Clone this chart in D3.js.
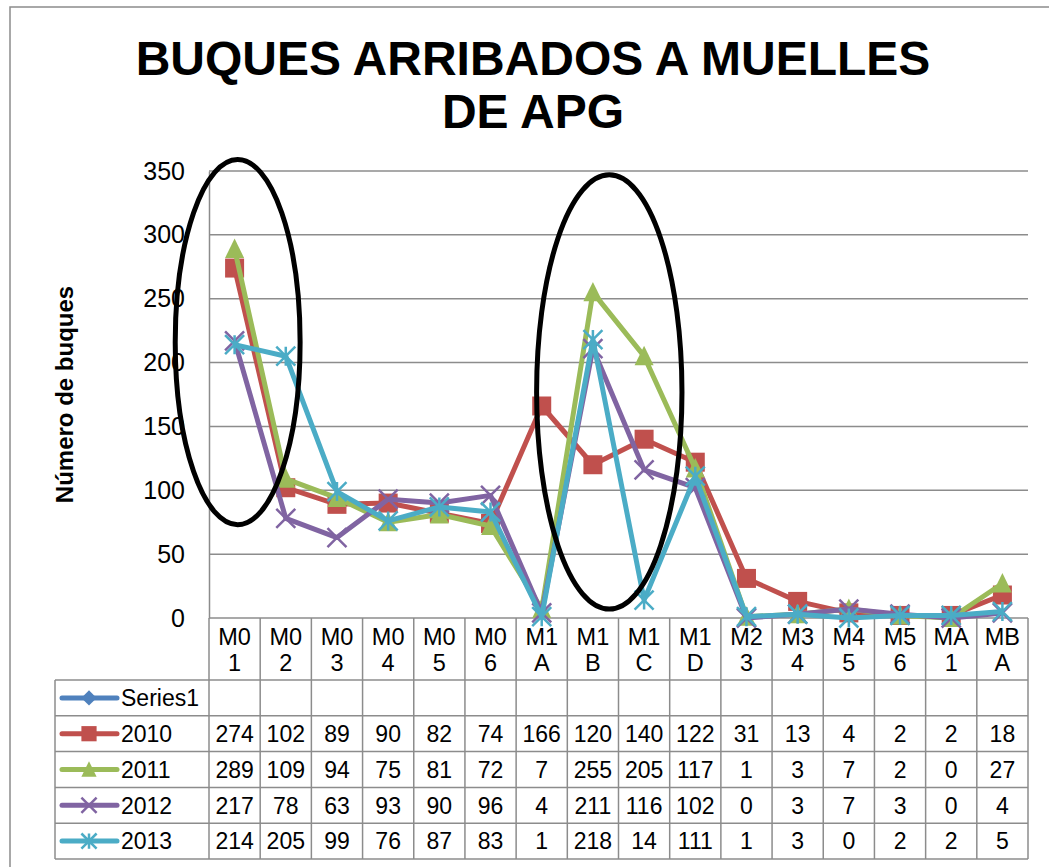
<!DOCTYPE html>
<html>
<head>
<meta charset="utf-8">
<script src="https://cdn.jsdelivr.net/npm/d3@7"></script>
<style>
  body { margin: 0; background: #fff; }
  text { font-family: "Liberation Sans", Arial, sans-serif; }
</style>
</head>
<body>
<div id="chart"></div>
<script>
// datos del gráfico
const categories = ["M01", "M02", "M03", "M04", "M05", "M06", "M1A", "M1B", "M1C", "M1D", "M23", "M34", "M45", "M56", "MA1", "MBA"];
const series1 = [null, null, null, null, null, null, null, null, null, null, null, null, null, null, null, null];
const y2010 = [274, 102, 89, 90, 82, 74, 166, 120, 140, 122, 31, 13, 4, 2, 2, 18];
const y2011 = [289, 109, 94, 75, 81, 72, 7, 255, 205, 117, 1, 3, 7, 2, 0, 27];
const y2012 = [217, 78, 63, 93, 90, 96, 4, 211, 116, 102, 0, 3, 7, 3, 0, 4];
const y2013 = [214, 205, 99, 76, 87, 83, 1, 218, 14, 111, 1, 3, 0, 2, 2, 5];
const yTicks = [0, 50, 100, 150, 200, 250, 300, 350];

const series = [
  { name: "Series1", values: series1, color: "#4F81BD", marker: "diamond" },
  { name: "2010", values: y2010, color: "#C0504D", marker: "square" },
  { name: "2011", values: y2011, color: "#9BBB59", marker: "triangle" },
  { name: "2012", values: y2012, color: "#8064A2", marker: "x" },
  { name: "2013", values: y2013, color: "#4BACC6", marker: "star" }
];

// elipses de anotación (categoría, valor central, radio en bandas, radio en valor)
const highlights = [
  { cat: "M01", dx: 0.06, value: 216, rBands: 1.22, rValue: 143 },
  { cat: "M1B", dx: 0.32, value: 177, rBands: 1.42, rValue: 170 }
];

const width = 1049, height = 867;
const plot = { left: 209, right: 1028, top: 171, bottom: 618 };
const rowH = 35.8, headerH = 62, legendLeft = 55;

const svg = d3.select("#chart").append("svg")
  .attr("width", width).attr("height", height);

svg.append("rect").attr("width", width).attr("height", height).attr("fill", "#fff");
// borde del área del gráfico
svg.append("rect")
  .attr("x", 10).attr("y", 7).attr("width", width + 20).attr("height", height + 20)
  .attr("fill", "none").attr("stroke", "#8c8c8c").attr("stroke-width", 1.5);

const x = d3.scaleBand().domain(categories).range([plot.left, plot.right]);
const y = d3.scaleLinear().domain([0, 350]).range([plot.bottom, plot.top]);

// líneas de cuadrícula
svg.append("g")
  .selectAll("line").data(yTicks).enter().append("line")
  .attr("x1", plot.left).attr("x2", plot.right)
  .attr("y1", d => y(d)).attr("y2", d => y(d))
  .attr("stroke", "#8c8c8c").attr("stroke-width", 1.5);

// eje y
const yAxis = svg.append("g")
  .attr("transform", `translate(${plot.left},0)`)
  .call(d3.axisLeft(y).tickValues(yTicks).tickSize(0).tickPadding(24));
yAxis.select(".domain").attr("stroke", "#8c8c8c").attr("stroke-width", 1.5);
yAxis.selectAll("text").attr("font-size", 25).attr("fill", "#000")
  .style("font-family", '"Liberation Sans", Arial, sans-serif');

svg.append("text")
  .attr("transform", `translate(73,${(plot.top + plot.bottom) / 2}) rotate(-90)`)
  .attr("text-anchor", "middle")
  .attr("font-size", 24).attr("font-weight", "bold")
  .text("Número de buques");

// título
const title = svg.append("text").attr("text-anchor", "middle")
  .attr("font-size", 48).attr("font-weight", "bold");
title.append("tspan").attr("x", 533).attr("y", 75).text("BUQUES ARRIBADOS A MUELLES");
title.append("tspan").attr("x", 533).attr("y", 128).text("DE APG");

// tabla de datos
const table = svg.append("g");
const tableBottom = plot.bottom + headerH + rowH * series.length;
const tableStroke = "#8c8c8c";

// líneas verticales de columnas
const colEdges = categories.map(c => x(c)).concat([plot.right]);
table.selectAll(".vline").data(colEdges).enter().append("line")
  .attr("x1", d => d).attr("x2", d => d)
  .attr("y1", plot.bottom).attr("y2", tableBottom)
  .attr("stroke", tableStroke).attr("stroke-width", 1.5);
table.append("line")
  .attr("x1", legendLeft).attr("x2", legendLeft)
  .attr("y1", plot.bottom + headerH).attr("y2", tableBottom)
  .attr("stroke", tableStroke).attr("stroke-width", 1.5);

// líneas horizontales de filas
const rowEdges = d3.range(series.length + 1).map(i => plot.bottom + headerH + i * rowH);
table.selectAll(".hline").data(rowEdges).enter().append("line")
  .attr("x1", legendLeft).attr("x2", plot.right)
  .attr("y1", d => d).attr("y2", d => d)
  .attr("stroke", tableStroke).attr("stroke-width", 1.5);

// etiquetas de categorías (dos líneas)
const catLabels = table.selectAll(".cat").data(categories).enter().append("text")
  .attr("text-anchor", "middle").attr("font-size", 23.5);
catLabels.append("tspan")
  .attr("x", d => x(d) + x.bandwidth() / 2).attr("y", plot.bottom + 27)
  .text(d => d.slice(0, 2));
catLabels.append("tspan")
  .attr("x", d => x(d) + x.bandwidth() / 2).attr("y", plot.bottom + 53)
  .text(d => d.slice(2));

// valores de la tabla
series.forEach((s, i) => {
  const cy = plot.bottom + headerH + i * rowH + rowH / 2;
  table.selectAll(null).data(s.values).enter().append("text")
    .attr("x", (d, j) => x(categories[j]) + x.bandwidth() / 2)
    .attr("y", cy).attr("dy", "0.36em")
    .attr("text-anchor", "middle").attr("font-size", 23)
    .text(d => d == null ? "" : d);
  // leyenda
  table.append("line")
    .attr("x1", 62).attr("x2", 117).attr("y1", cy).attr("y2", cy)
    .attr("stroke", s.color).attr("stroke-width", 5).attr("stroke-linecap", "round");
  drawMarker(table, s, 89, cy, 0.8);
  table.append("text")
    .attr("x", 121).attr("y", cy).attr("dy", "0.36em")
    .attr("font-size", 23).text(s.name);
});

function drawMarker(g, s, cx, cy, k) {
  const r = 9.5 * k;
  if (s.marker === "diamond") {
    g.append("path").attr("d", `M${cx},${cy - r}L${cx + r},${cy}L${cx},${cy + r}L${cx - r},${cy}Z`)
      .attr("fill", s.color);
  } else if (s.marker === "square") {
    g.append("rect").attr("x", cx - r).attr("y", cy - r).attr("width", 2 * r).attr("height", 2 * r)
      .attr("fill", s.color);
  } else if (s.marker === "triangle") {
    g.append("path").attr("d", `M${cx},${cy - r * 1.1}L${cx + r},${cy + r * 0.95}L${cx - r},${cy + r * 0.95}Z`)
      .attr("fill", s.color);
  } else if (s.marker === "x") {
    g.append("path").attr("d", `M${cx - r},${cy - r}L${cx + r},${cy + r}M${cx - r},${cy + r}L${cx + r},${cy - r}`)
      .attr("stroke", s.color).attr("stroke-width", 2.5).attr("fill", "none");
  } else if (s.marker === "star") {
    g.append("path").attr("d", `M${cx - r},${cy - r}L${cx + r},${cy + r}M${cx - r},${cy + r}L${cx + r},${cy - r}M${cx},${cy - r}L${cx},${cy + r}`)
      .attr("stroke", s.color).attr("stroke-width", 2.5).attr("fill", "none");
  }
}

// líneas de las series
const line = d3.line()
  .defined(d => d.v != null)
  .x(d => x(d.c) + x.bandwidth() / 2)
  .y(d => y(d.v));

const lines = svg.append("g");
series.forEach(s => {
  const pts = s.values.map((v, j) => ({ c: categories[j], v: v }));
  lines.append("path").datum(pts)
    .attr("d", line)
    .attr("fill", "none").attr("stroke", s.color).attr("stroke-width", 5)
    .attr("stroke-linejoin", "round");
  pts.filter(p => p.v != null).forEach(p => {
    drawMarker(lines, s, x(p.c) + x.bandwidth() / 2, y(p.v), 1);
  });
});

// elipses de anotación
svg.append("g").selectAll("ellipse").data(highlights).enter().append("ellipse")
  .attr("cx", d => x(d.cat) + x.bandwidth() * (0.5 + d.dx))
  .attr("cy", d => y(d.value))
  .attr("rx", d => x.bandwidth() * d.rBands)
  .attr("ry", d => y(0) - y(d.rValue))
  .attr("fill", "none").attr("stroke", "#000").attr("stroke-width", 5);
</script>
</body>
</html>
